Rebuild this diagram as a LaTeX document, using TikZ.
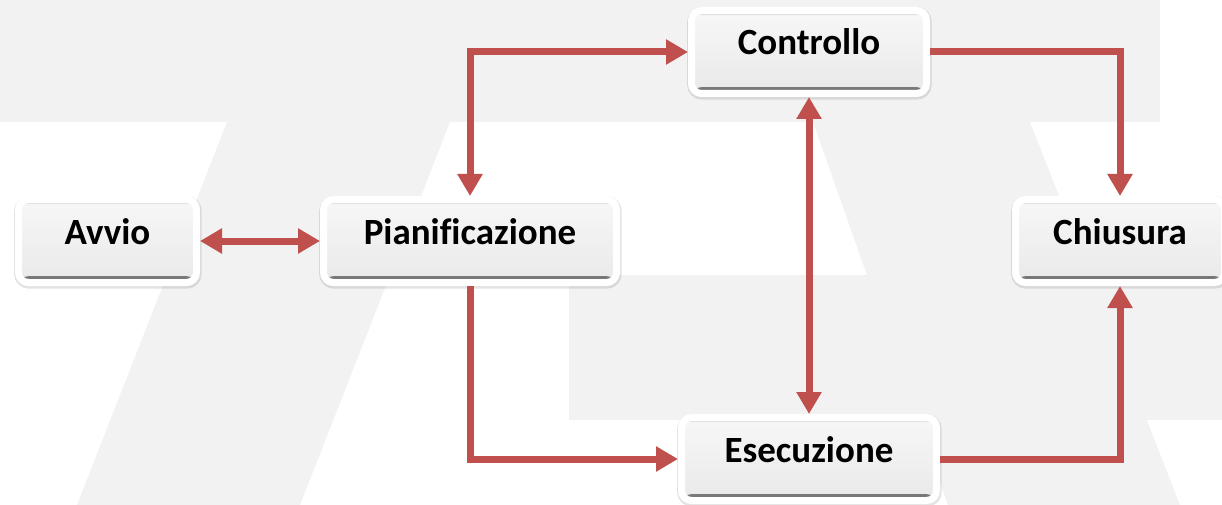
\documentclass[tikz,border=0pt]{standalone}
\usepackage{fontspec}
\setmainfont{Carlito}[Ligatures=NoCommon]
\usetikzlibrary{arrows.meta,shadows}
\definecolor{bggray}{RGB}{242,242,242}
\definecolor{arrowred}{RGB}{192,80,77}
\definecolor{boxtop}{RGB}{247,247,247}
\definecolor{boxbot}{RGB}{233,233,233}
\definecolor{rim}{RGB}{120,120,120}
\tikzset{
  stage/.style={rectangle, rounded corners=10pt, draw=white, line width=7pt,
    minimum height=83pt, inner sep=0pt, text height=25pt, text depth=19pt,
    text=black, font=\bfseries\fontsize{37}{40}\selectfont,
    top color=boxtop, bottom color=boxbot,
    drop shadow={shadow xshift=0.4pt, shadow yshift=-1.4pt, opacity=0.2,
      fill=black!55, draw=black!55, line width=9.5pt},
    path picture={
      \fill[black!12] (path picture bounding box.north west)
        rectangle ([yshift=-4.6pt]path picture bounding box.north east);
      \fill[rim] ([yshift=3.2pt]path picture bounding box.south west)
        rectangle ([yshift=6.4pt]path picture bounding box.south east);}},
  link/.style={draw=arrowred, line width=7pt, -{Triangle[width=24pt,length=22pt]}},
  dlink/.style={draw=arrowred, line width=7pt,
    {Triangle[width=24pt,length=22pt]}-{Triangle[width=24pt,length=22pt]}},
  bgshape/.style={fill=bggray, draw=none}
}
\begin{document}
\begin{tikzpicture}[x=1pt, y=-1pt]
\useasboundingbox (0,0) rectangle (1222,505);
\fill[white] (0,0) rectangle (1222,505);
% background watermark shapes
\fill[bgshape] (0,0) rectangle (1160,122);
\fill[bgshape] (227,122) -- (450,122) -- (300,505) -- (77,505) -- cycle;
\fill[bgshape] (813,122) -- (1030,122) -- (1180,505) -- (948,505) -- cycle;
\fill[bgshape] (569,275) rectangle (1222,420);
% nodes
\node[stage, minimum width=178pt] (avvio) at (107.5,241) {Avvio};
\node[stage, minimum width=293pt] (pian) at (470,241) {Pianificazione};
\node[stage, minimum width=235pt] (ctrl) at (809,52) {Controllo};
\node[stage, minimum width=209pt] (chius) at (1120,241) {Chiusura};
\node[stage, minimum width=255pt] (esec) at (809,459) {Esecuzione};
% connectors
\draw[dlink] (avvio.east) -- (pian.west);
\draw[dlink] (pian.north) |- (ctrl.west);
\draw[link] (ctrl.east) -| (chius.north);
\draw[dlink] (ctrl.south) -- (esec.north);
\draw[link] (pian.south) |- (esec.west);
\draw[link] (esec.east) -| (chius.south);
\end{tikzpicture}
\end{document}
